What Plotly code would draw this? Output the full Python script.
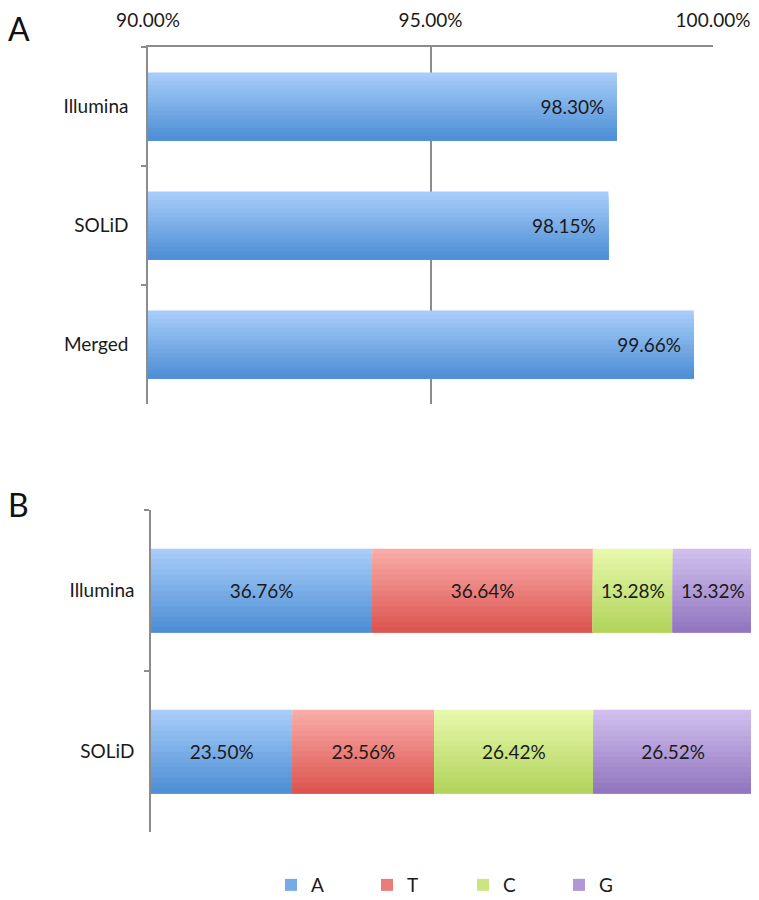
import plotly.graph_objects as go

# ---------------- data ----------------
platforms_a = ["Illumina", "SOLiD", "Merged"]
coverage_a = [98.30, 98.15, 99.66]
tick_vals_a = [90, 95, 100]
tick_text_a = ["90.00%", "95.00%", "100.00%"]

platforms_b = ["Illumina", "SOLiD"]
bases = ["A", "T", "C", "G"]
base_A = [36.76, 23.50]
base_T = [36.64, 23.56]
base_C = [13.28, 26.42]
base_G = [13.32, 26.52]

# ---------------- style ----------------
OFF = 8                      # page body margin
W, H = 759 - OFF, 900 - OFF
FONT = "Lato"
FS = 19
TXT = "#1a1a1a"
AXC = "#8c8c8c"
N_SLICES = 16
NBSP = "\u00a0"
grad = {
    "A": ("#a7ccf9", "#4e8fd5"),
    "T": ("#f9aba7", "#dc5550"),
    "C": ("#e6f8ab", "#b2d45c"),
    "G": ("#d0bfee", "#9276bf"),
}


def hex2rgb(h):
    h = h.lstrip("#")
    return tuple(int(h[i:i + 2], 16) for i in (0, 2, 4))


def mix(c1, c2, t):
    a, b = hex2rgb(c1), hex2rgb(c2)
    return "rgb(%d,%d,%d)" % tuple(round(a[k] + (b[k] - a[k]) * t) for k in range(3))


def px_x(p):
    return (p - OFF) / W


def px_y(p):
    return 1 - (p - OFF) / H


fig = go.Figure()

# ---------- panel A ----------
bw_a = 0.57
for i in range(N_SLICES):
    t = i / (N_SLICES - 1)
    off = -bw_a / 2 + i * bw_a / N_SLICES
    fig.add_trace(go.Bar(
        x=coverage_a, y=platforms_a, orientation="h",
        width=bw_a / 2 - off, offset=off,
        marker=dict(color=mix(*grad["A"], t), line=dict(width=0)),
        xaxis="x", yaxis="y", showlegend=False, hoverinfo="skip",
    ))
fig.add_trace(go.Bar(
    x=coverage_a, y=platforms_a, orientation="h", width=bw_a,
    marker=dict(color="rgba(0,0,0,0)", line=dict(width=0)),
    text=["%.2f%%" % v + NBSP * 2 for v in coverage_a], textposition="inside",
    insidetextanchor="end", constraintext="none",
    textfont=dict(family=FONT, size=FS, color=TXT),
    xaxis="x", yaxis="y", showlegend=False,
))

# ---------- panel B ----------
bw_b = 0.52
series = {"A": base_A, "T": base_T, "C": base_C, "G": base_G}
cum = [0.0] * len(platforms_b)
for name in bases:
    vals = series[name]
    start = list(cum)
    for i in range(N_SLICES):
        t = i / (N_SLICES - 1)
        off = -bw_b / 2 + i * bw_b / N_SLICES
        fig.add_trace(go.Bar(
            x=vals, y=platforms_b, base=start, orientation="h",
            width=bw_b / 2 - off, offset=off,
            marker=dict(color=mix(*grad[name], t), line=dict(width=0)),
            xaxis="x2", yaxis="y2", name=name, legendgroup=name,
            showlegend=(i == N_SLICES // 2), hoverinfo="skip",
        ))
    fig.add_trace(go.Bar(
        x=vals, y=platforms_b, base=start, orientation="h", width=bw_b,
        marker=dict(color="rgba(0,0,0,0)", line=dict(width=0)),
        text=["%.2f%%" % v for v in vals], textposition="inside",
        insidetextanchor="middle", constraintext="none",
        textfont=dict(family=FONT, size=FS, color=TXT),
        xaxis="x2", yaxis="y2", name=name, legendgroup=name, showlegend=False,
    ))
    cum = [c + v for c, v in zip(cum, vals)]

fig.update_layout(
    width=W, height=H,
    margin=dict(l=0, r=0, t=0, b=0, autoexpand=False),
    paper_bgcolor="white", plot_bgcolor="white",
    barmode="overlay",
    font=dict(family=FONT, size=FS, color=TXT),
    xaxis=dict(
        domain=[px_x(148), px_x(713)], range=[90, 100], side="top",
        tickvals=tick_vals_a, ticktext=tick_text_a,
        showgrid=True, gridcolor=AXC, gridwidth=1.5,
        showline=True, linecolor=AXC, linewidth=1.5,
        ticks="", ticklabelstandoff=11, zeroline=False,
        tickfont=dict(family=FONT, size=FS, color=TXT),
        anchor="y", fixedrange=True, automargin=False,
    ),
    yaxis=dict(
        domain=[px_y(404), px_y(47)],
        categoryorder="array", categoryarray=platforms_a, autorange="reversed",
        showline=True, linecolor=AXC, linewidth=1.5,
        ticks="outside", tickson="boundaries", ticklen=5, tickcolor=AXC, tickwidth=1.5,
        ticklabelstandoff=14, showgrid=False, zeroline=False,
        tickfont=dict(family=FONT, size=FS, color=TXT),
        anchor="x", fixedrange=True, automargin=False,
    ),
    xaxis2=dict(
        domain=[px_x(151), px_x(753)], range=[0, 100], visible=False,
        anchor="y2", fixedrange=True, automargin=False,
    ),
    yaxis2=dict(
        domain=[px_y(832), px_y(510)],
        categoryorder="array", categoryarray=platforms_b, autorange="reversed",
        showline=True, linecolor=AXC, linewidth=1.5,
        ticks="outside", tickson="boundaries", ticklen=5, tickcolor=AXC, tickwidth=1.5,
        ticklabelstandoff=11, showgrid=False, zeroline=False,
        tickfont=dict(family=FONT, size=FS, color=TXT),
        anchor="x2", fixedrange=True, automargin=False,
    ),
    legend=dict(
        orientation="h", x=px_x(271), y=px_y(885), xanchor="left", yanchor="middle",
        entrywidth=51, entrywidthmode="pixels", itemwidth=30,
        font=dict(family=FONT, size=FS, color=TXT), traceorder="normal",
        bgcolor="rgba(0,0,0,0)",
    ),
    annotations=[
        dict(text="A", x=px_x(7), y=px_y(8), xref="paper", yref="paper",
             xanchor="left", yanchor="top", showarrow=False, borderpad=0,
             font=dict(family=FONT, size=32, color="#111")),
        dict(text="B", x=px_x(7), y=px_y(484), xref="paper", yref="paper",
             xanchor="left", yanchor="top", showarrow=False, borderpad=0,
             font=dict(family=FONT, size=32, color="#111")),
    ],
)

fig.write_html("out.html")
